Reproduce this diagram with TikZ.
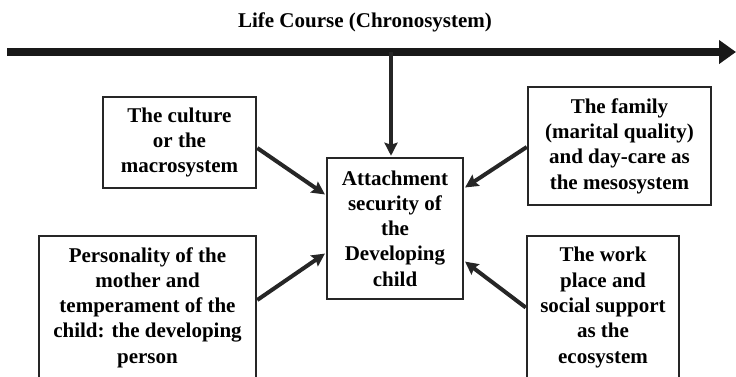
\documentclass[tikz,border=0pt]{standalone}
\usepackage{fontspec}
\setmainfont{Liberation Serif}
\usetikzlibrary{arrows.meta}
\begin{document}
\begin{tikzpicture}[x=1pt,y=-1pt,
  txt/.style={font=\fontsize{21}{25.3}\selectfont\bfseries, align=center},
  sysbox/.style={txt, draw=black!85, line width=2.5pt, inner sep=0pt},
  link/.style={draw=black!85, line width=4pt,
    -{Stealth[length=13pt,width=13pt,inset=2pt]}, shorten >=1pt}
]
\useasboundingbox (0,0) rectangle (736,376);

% title above the time line
\node[txt, anchor=base] (title) at (365,27) {Life Course (Chronosystem)};

% time line
\coordinate (tstart) at (7,52);
\coordinate (tend) at (736,52);
\draw[black!90, line width=7.5pt, -{Triangle[length=17pt,width=23pt]}] (tstart) -- (tend);

% boxes
\node[sysbox, minimum width=136pt, minimum height=141pt] (c) at (395,228.5)
  {Attachment\\security of\\the\\Developing\\child};
\node[sysbox, minimum width=153pt, minimum height=91pt] (tl) at (179.5,142.5)
  {The culture\\or the\\macrosystem};
\node[sysbox, minimum width=183pt, minimum height=118pt] (tr) at (619.5,146)
  {The family\\(marital quality)\\and day-care as\\the mesosystem};
\node[sysbox, minimum width=217pt, minimum height=143pt] (bl) at (147.5,307.5)
  {Personality of the\\mother and\\temperament of the\\child: the developing\\person};
\node[sysbox, minimum width=152pt, minimum height=143pt] (br) at (603,307.5)
  {The work\\place and\\social support\\as the\\ecosystem};

% connectors
\coordinate (chrono) at (391,52);
\draw[link] (chrono) -- ([xshift=-4pt]c.north);
\draw[link] ([yshift=-5.5pt]tl.east) -- ([yshift=33.5pt]c.west);
\draw[link] ([yshift=-1pt]tr.west) -- ([yshift=40.5pt]c.east);
\draw[link] ([yshift=7.5pt]bl.east) -- ([yshift=-24.5pt]c.west);
\draw[link] (br.west) -- ([yshift=-32.5pt]c.east);
\end{tikzpicture}
\end{document}
